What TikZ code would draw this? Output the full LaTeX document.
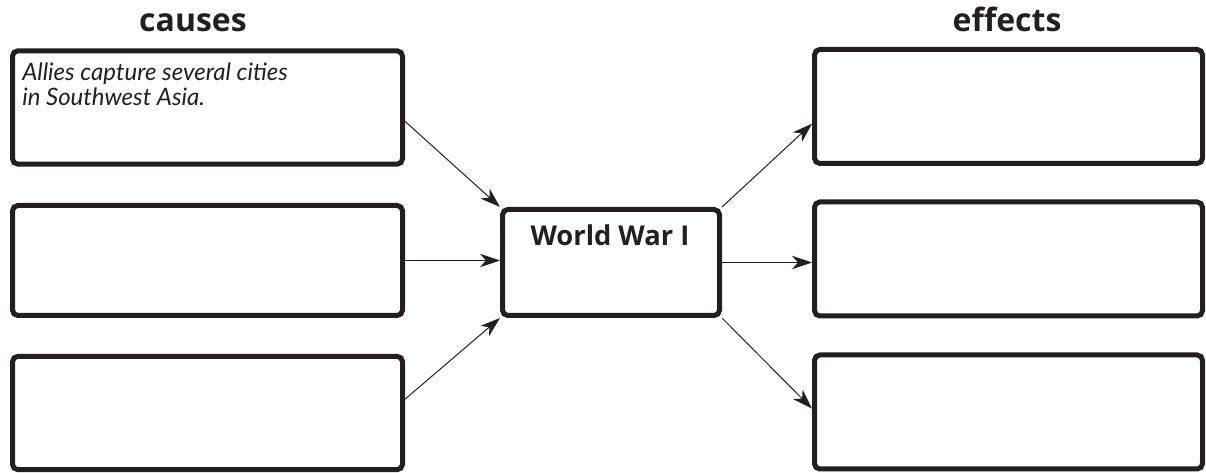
\documentclass[tikz,border=0pt]{standalone}
\usepackage{fontspec}
\usepackage{tikz}
\usetikzlibrary{arrows.meta}
\newfontfamily\headfont{Open Sans}
\newfontfamily\handfont{Lato}
\definecolor{ink}{RGB}{35,31,32}

\tikzset{
  chartbox/.style={draw=ink, line width=3.75pt, rounded corners=4pt, rectangle, inner sep=0pt},
  leftbox/.style={chartbox, minimum width=292.5pt, minimum height=85pt},
  rightbox/.style={chartbox, minimum width=291pt, minimum height=85.5pt},
  link/.style={draw=ink, line width=0.75pt, -{Stealth[length=15pt,width=10pt,inset=4.5pt]}},
  heading/.style={text=ink, font=\headfont\bfseries\fontsize{24}{28}\selectfont, inner sep=0pt, anchor=base},
}

\begin{document}
\begin{tikzpicture}[x=0.75pt,y=0.75pt,yscale=-1,xscale=1]
\useasboundingbox (0,0) rectangle (1206,473);

%Shape: Rectangle [causes]
\node [leftbox] (cause1) at (207.5,107.5) {};
\node [leftbox, minimum height=82.5pt] (cause2) at (207.5,260.5) {};
\node [leftbox] (cause3) at (207.5,413) {};

%Shape: Rectangle [center]
\node [chartbox, minimum width=162.75pt, minimum height=79.5pt] (war) at (611,262.5) {};

%Shape: Rectangle [effects]
\node [rightbox] (effect1) at (1008.5,106.5) {};
\node [rightbox] (effect2) at (1008.5,259) {};
\node [rightbox] (effect3) at (1008.5,412) {};

% Text Node
\node [heading] (causeshead) at (193,32) {causes};
% Text Node
\node [heading] (effectshead) at (1007,32) {effects};
% Text Node
\node [text=ink, font=\headfont\bfseries\fontsize{20.5}{24}\selectfont, inner sep=0pt, anchor=base] (wartext) at (610,246) {World War I};
% Text Node
\node [text=ink, font=\handfont\itshape\fontsize{18}{18.75}\selectfont, inner sep=0pt, anchor=north west, align=left] (note1) at (22,63) {Allies capture several cities\\in Southwest Asia.};

% Arrows
\draw [link] (cause1.-4) -- (war.north west);
\draw [link] (cause2.east) -- (cause2.east -| war.west);
\draw [link] (cause3.4) -- (war.south west);
\draw [link] (war.north east) -- (effect1.-175.5);
\draw [link] (war.east) -- (war.east -| effect2.west);
\draw [link] (war.south east) -- (effect3.179);

\end{tikzpicture}
\end{document}
